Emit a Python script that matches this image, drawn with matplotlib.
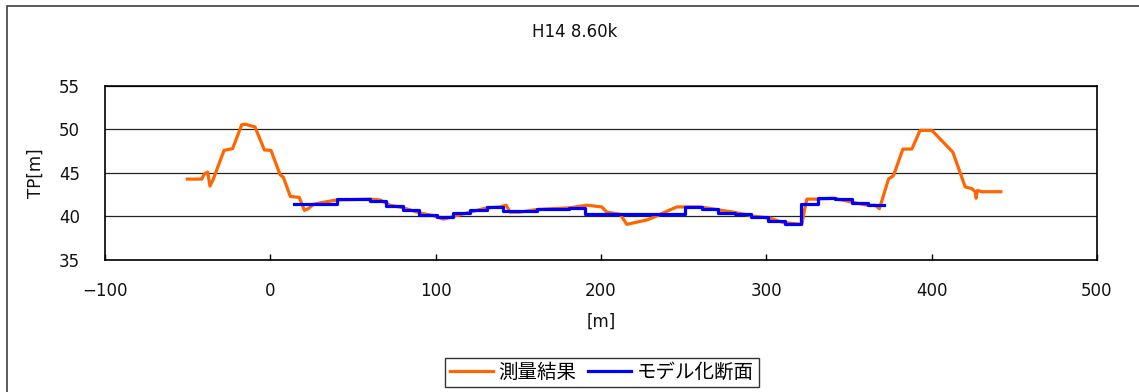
import matplotlib
matplotlib.use("Agg")
import matplotlib.pyplot as plt
from matplotlib.patches import Rectangle

plt.rcParams['font.family'] = ['DejaVu Sans', 'Noto Sans CJK JP']

# Surveyed cross-section (distance [m], elevation TP[m])
survey_x = [-50.2, -41.5, -39.9, -37.9, -36.5, -34.5, -28.0, -22.8, -17.3, -15.1,
            -9.3, -3.6, 0.4, 5.9, 7.9, 12.1, 17.5, 20.6, 23.0, 26.0,
            31.1, 40.2, 60.3, 66.4, 72.4, 80.5, 90.6, 98.6, 104.7, 110.7,
            120.8, 130.9, 139.0, 142.6, 145.0, 151.0, 161.2, 181.3, 191.4, 200.5,
            203.5, 211.6, 215.6, 227.7, 231.7, 239.8, 245.9, 260.0, 270.0, 280.0,
            292.1, 302.3, 310.3, 321.5, 323.0, 324.5, 330.5, 340.6, 350.7, 360.8,
            365.8, 368.4, 373.9, 376.9, 382.6, 388.0, 393.0, 400.1, 412.8, 420.3,
            424.3, 426.3, 426.9, 427.7, 430.3, 441.8]
survey_y = [44.3, 44.3, 44.9, 45.1, 43.5, 44.3, 47.6, 47.8, 50.55, 50.6,
            50.3, 47.65, 47.6, 44.8, 44.5, 42.3, 42.2, 40.7, 40.9, 41.4,
            41.6, 41.9, 42.0, 41.9, 41.3, 41.0, 40.4, 40.1, 39.7, 40.0,
            40.5, 41.0, 41.1, 41.3, 40.5, 40.5, 40.8, 41.0, 41.3, 41.1,
            40.5, 40.25, 39.1, 39.6, 39.9, 40.6, 41.1, 41.1, 40.8, 40.5,
            40.05, 39.8, 39.3, 39.1, 40.7, 42.0, 42.0, 42.1, 41.7, 41.3,
            41.3, 40.9, 44.3, 44.7, 47.75, 47.75, 49.9, 49.9, 47.4, 43.4,
            43.2, 42.85, 42.1, 43.0, 42.85, 42.85]

# Modelled (stepwise) cross-section
model_x = [14.5, 40.2, 60.3, 70.0, 80.3, 90.0, 100.6, 110.7, 120.8, 130.9,
           140.5, 161.0, 180.5, 190.3, 250.8, 260.9, 271.0, 281.0, 291.0, 301.0,
           311.0, 321.0, 331.5, 341.6, 351.7, 361.7, 371.4]
model_y = [41.4, 42.0, 41.8, 41.25, 40.7, 40.15, 39.9, 40.4, 40.8, 41.1,
           40.6, 40.85, 41.0, 40.25, 41.1, 40.85, 40.45, 40.25, 39.9, 39.5,
           39.1, 41.4, 42.1, 42.0, 41.6, 41.35, 41.35]

title = "H14 8.60k"
x_ticks = [-100, 0, 100, 200, 300, 400, 500]
y_ticks = [35, 40, 45, 50, 55]

W, H = 1139, 392
fig = plt.figure(figsize=(W / 100, H / 100), dpi=100)
fig.patch.set_facecolor('white')

# outer chart frame
fig.add_artist(Rectangle((7 / W, -0.1), 1.2, 1 - 6 / H + 0.1, transform=fig.transFigure,
                         fill=False, edgecolor='#404040', lw=1.2, clip_on=False))

ax = fig.add_axes([105 / W, 1 - 260 / H, (1097 - 105) / W, (260 - 86) / H])

ax.plot(survey_x, survey_y, color='#FF6600', lw=2.3, label='測量結果', zorder=3)
ax.plot(model_x, model_y, color='#0000FF', lw=2.3, drawstyle='steps-post',
        label='モデル化断面', zorder=4)

ax.set_xlim(-100, 500)
ax.set_ylim(35, 55)
ax.set_xticks(x_ticks)
ax.set_yticks(y_ticks)
ax.grid(axis='y', color='#222222', lw=0.9)
ax.set_axisbelow(True)
for s in ax.spines.values():
    s.set_color('black')
    s.set_linewidth(1.2)

ax.tick_params(axis='x', direction='in', length=4, width=1, pad=16,
               labelsize=12, labelcolor='#111111')
ax.tick_params(axis='y', length=0, pad=18, labelsize=12, labelcolor='#111111')

ax.set_xlabel('[m]', fontsize=12, color='#111111', labelpad=9)
ax.set_ylabel('TP[m]', fontsize=12, color='#111111', labelpad=10)

fig.text(575 / W, 1 - 32 / H, title, ha='center', va='center', fontsize=12, color='#111111')

leg = fig.legend(loc='center', bbox_to_anchor=(602 / W, 1 - 372.5 / H), ncol=2,
                 fontsize=14, frameon=True, fancybox=False, handlelength=2.2,
                 handletextpad=0.3, columnspacing=0.6, borderpad=0.25,
                 borderaxespad=0)
leg.get_frame().set_edgecolor('black')
leg.get_frame().set_linewidth(1.0)

fig.savefig('out.png', dpi=100)
